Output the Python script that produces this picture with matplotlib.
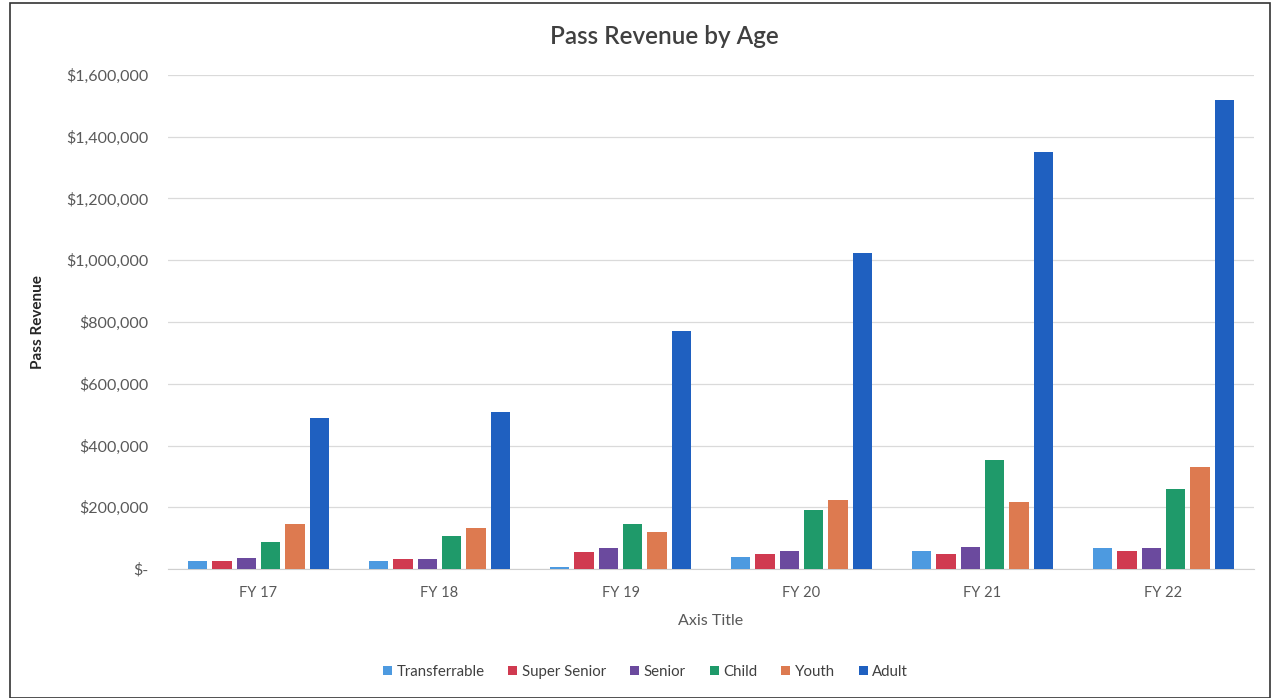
import matplotlib
matplotlib.use("Agg")
import matplotlib.pyplot as plt
import numpy as np
from matplotlib.patches import Rectangle
from matplotlib.ticker import FuncFormatter

years = ["FY 17", "FY 18", "FY 19", "FY 20", "FY 21", "FY 22"]
series_names = ["Transferrable", "Super Senior", "Senior", "Child", "Youth", "Adult"]
transferrable = [26000, 25000, 7000, 38000, 58000, 69000]
super_senior = [25000, 31000, 55000, 50000, 47000, 58000]
senior = [36000, 31000, 67000, 58000, 71000, 67000]
child = [87000, 106000, 146000, 191000, 352000, 259000]
youth = [147000, 133000, 120000, 222000, 217000, 329000]
adult = [489000, 508000, 771000, 1023000, 1351000, 1519000]
colors = ["#4d9ae0", "#d03a50", "#6b4a9e", "#1f9a6a", "#dd7a50", "#1f60c0"]

values = [transferrable, super_senior, senior, child, youth, adult]

plt.rcParams["font.family"] = ["Lato", "DejaVu Sans"]

W, H = 1274, 698
fig = plt.figure(figsize=(W / 100, H / 100), dpi=100)
left, right, top, bottom = 168, 1254, 75, 569
ax = fig.add_axes([left / W, 1 - bottom / H, (right - left) / W, (bottom - top) / H])

x = np.arange(len(years))
step = 0.135
width = 0.108
for i, (name, vals, c) in enumerate(zip(series_names, values, colors)):
    ax.bar(x + (i - 2.5) * step, vals, width=width, color=c, label=name, zorder=3)

ax.set_xlim(-0.5, len(years) - 0.5)
ax.set_ylim(0, 1600000)
ax.set_yticks(np.arange(0, 1600001, 200000))
ax.yaxis.set_major_formatter(FuncFormatter(lambda v, p: "$-" if v == 0 else f"${v:,.0f}"))
ax.set_xticks(x)
ax.set_xticklabels(years)
ax.grid(axis="y", color="#dadada", linewidth=0.9, zorder=0)
for s in ["top", "right", "left"]:
    ax.spines[s].set_visible(False)
ax.spines["bottom"].set_color("#cfcfcf")
ax.tick_params(axis="both", length=0, colors="#595959")
ax.tick_params(axis="x", pad=12, labelsize=10.5)
ax.tick_params(axis="y", pad=14, labelsize=11.5)

ax.set_xlabel("Axis Title", fontsize=11.5, color="#595959", labelpad=10)
ax.set_ylabel("Pass Revenue", fontsize=11, color="#262626", fontweight="bold")
ax.yaxis.set_label_coords((45 - left) / (right - left), (bottom - 322) / (bottom - top))
fig.text(664.5 / W, 1 - 37 / H, "Pass Revenue by Age", ha="center", va="center",
         fontsize=17.5, color="#404040", fontweight="semibold")

fig.legend(loc="center", bbox_to_anchor=(645.5 / W, 1 - 672 / H), ncol=6, frameon=False,
           fontsize=10.8, handlelength=0.6, handleheight=0.6, handletextpad=0.3,
           columnspacing=1.6, labelcolor="#404040")

fig.patches.append(Rectangle((10 / W, 0), 1260 / W, 1 - 3 / H, transform=fig.transFigure,
                             fill=False, edgecolor="#333333", linewidth=1.2))

fig.savefig("out.png", dpi=100)
